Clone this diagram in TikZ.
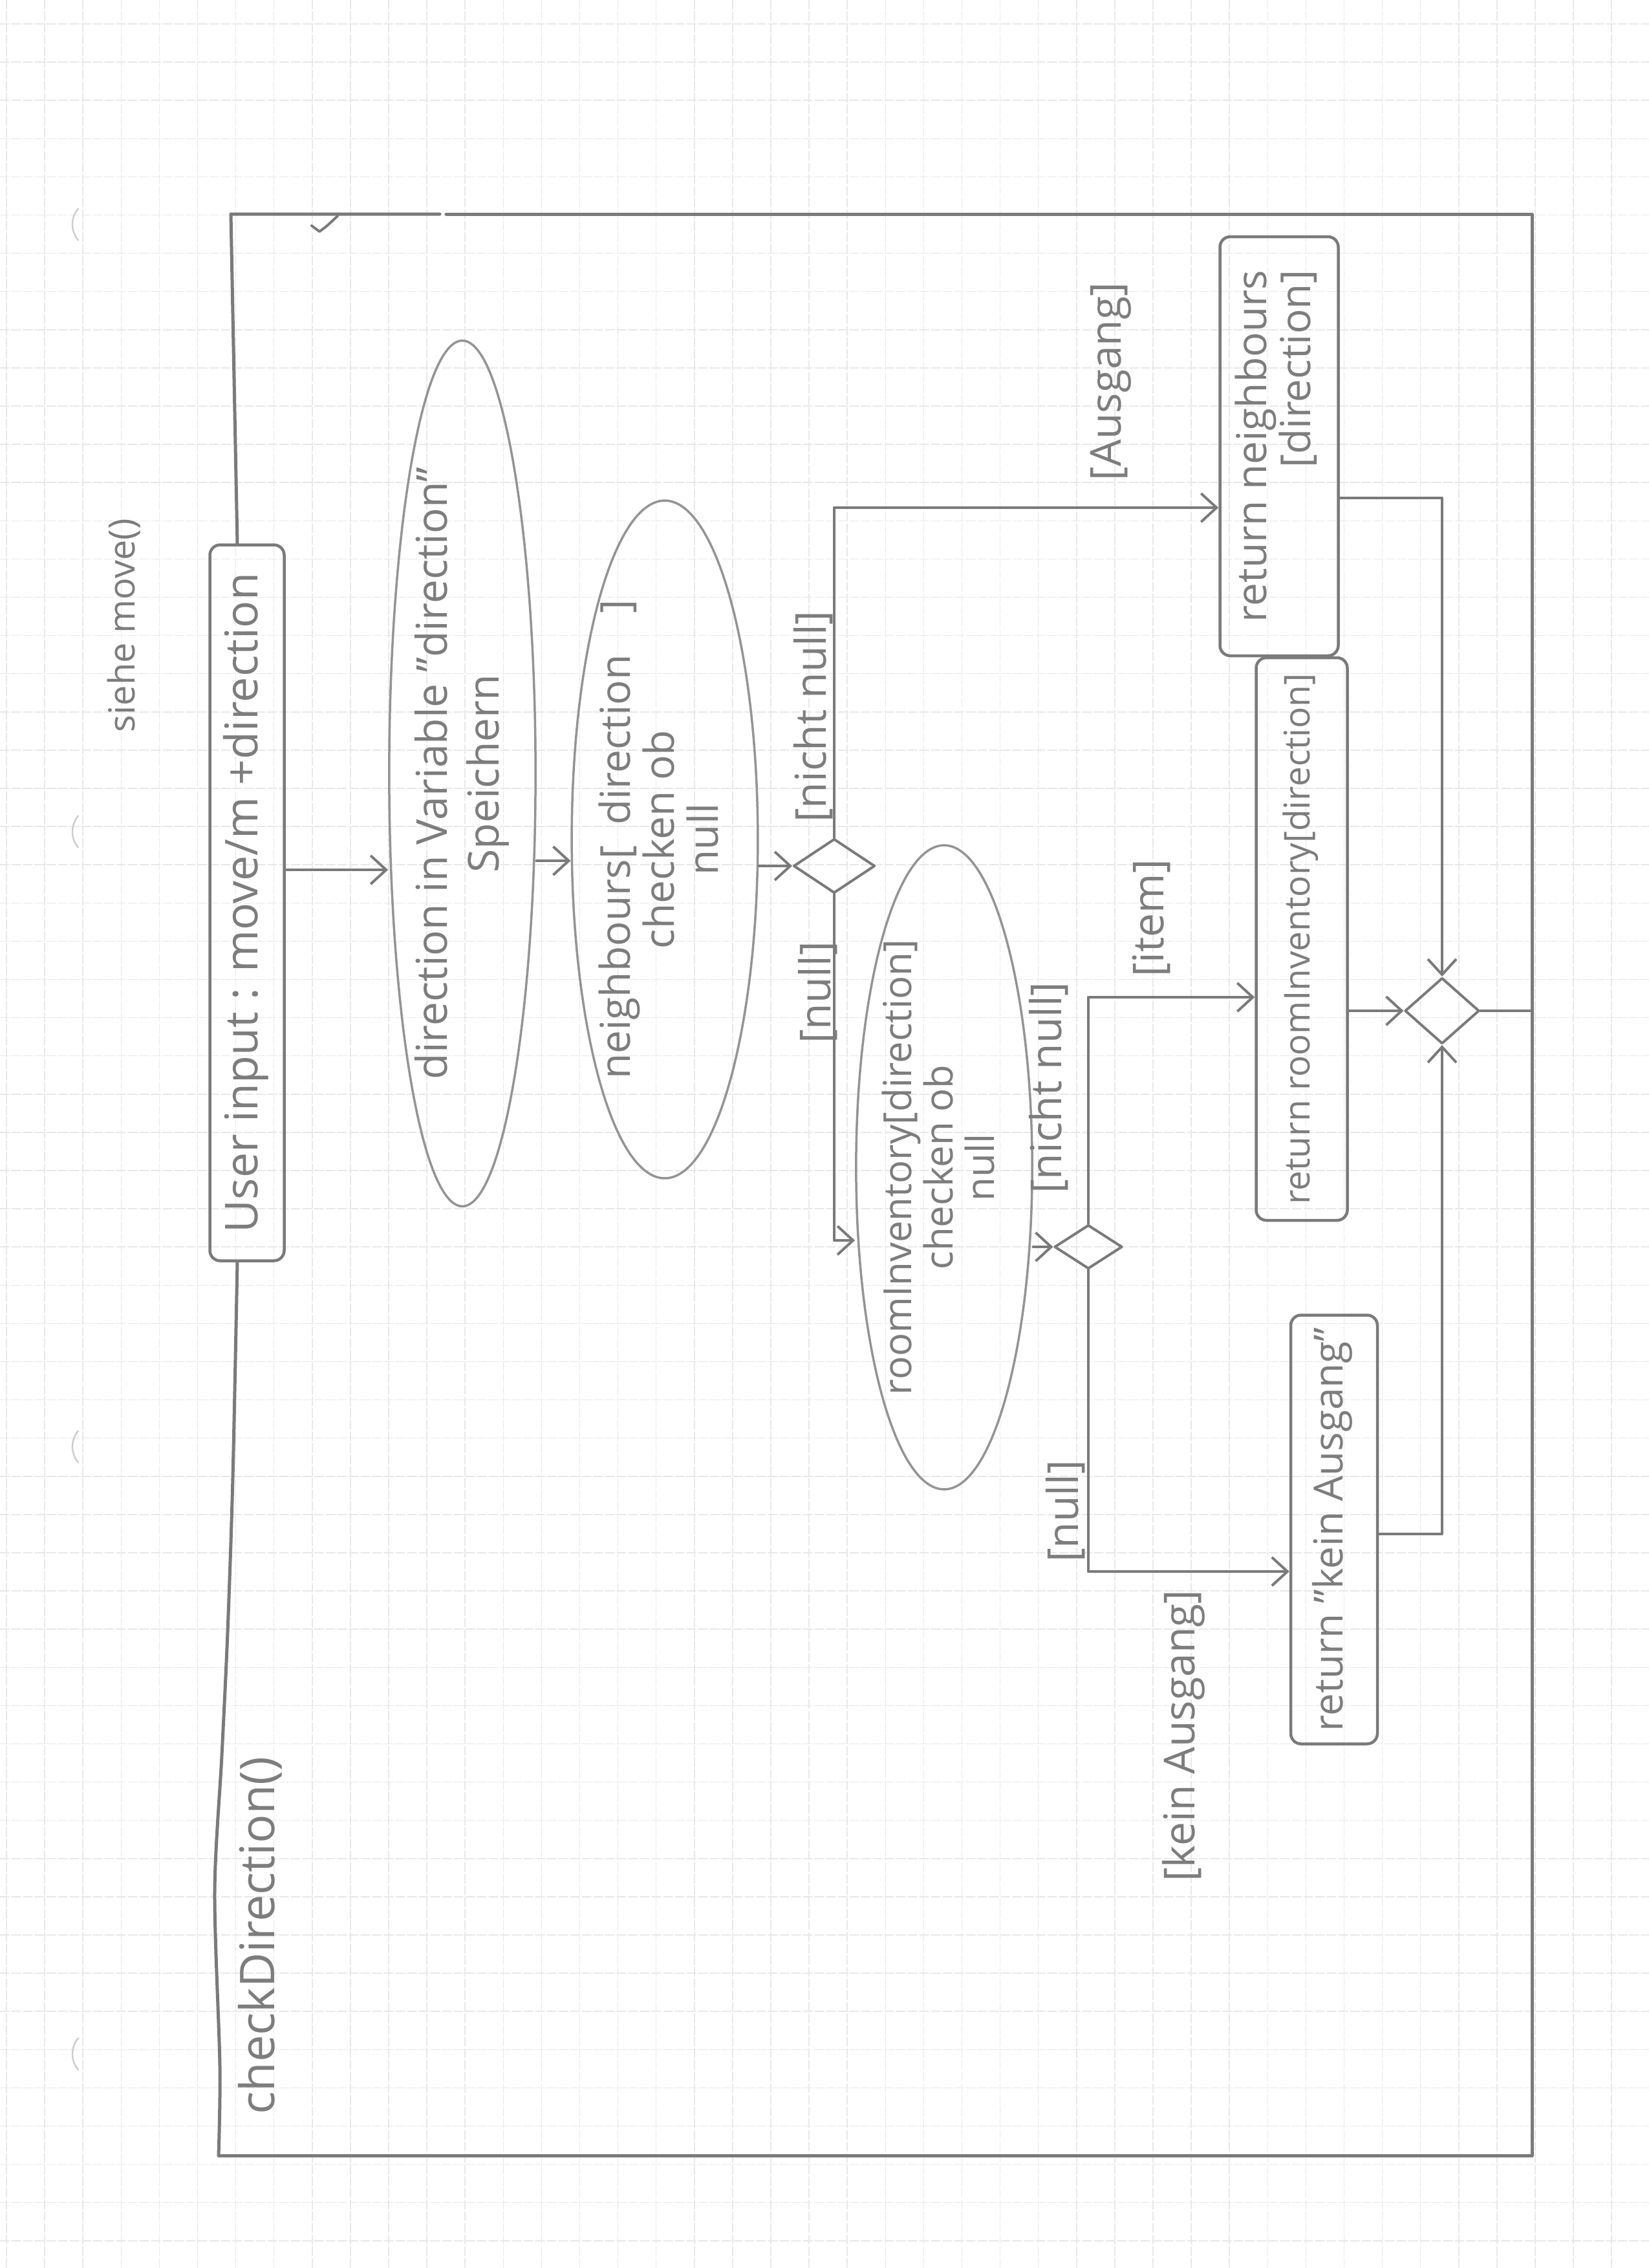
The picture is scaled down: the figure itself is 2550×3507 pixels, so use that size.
\documentclass[tikz,border=0pt]{standalone}
\usepackage{fontspec}
\setmainfont{Open Sans}
\usetikzlibrary{shapes.geometric, arrows.meta, calc}

\definecolor{gridcol}{RGB}{232,232,232}
\definecolor{pencil}{RGB}{122,122,122}
\definecolor{pencilsoft}{RGB}{148,148,148}
\definecolor{ink}{RGB}{125,125,125}
\definecolor{holecol}{RGB}{205,205,205}

% vertical (rotated) hand lettering
\newcommand{\vtext}[3]{\rotatebox{90}{\fontsize{#1}{#2}\selectfont\begin{tabular}{@{}c@{}}#3\end{tabular}}}
\newcommand{\vtextr}[3]{\rotatebox{90}{\fontsize{#1}{#2}\selectfont\begin{tabular}{@{}r@{}}#3\end{tabular}}}

\begin{document}
\begin{tikzpicture}[x=1pt, y=-1pt, line join=round, line cap=round,
  gridline/.style={draw=gridcol, line width=1.5pt, dash pattern=on 14pt off 4pt},
  hole/.style={draw=holecol, line width=2.5pt},
  frameline/.style={draw=pencil, line width=5pt},
  flow/.style={draw=pencil, line width=4.5pt},
  flowarrow/.style={flow, -{Straight Barb[length=24pt,width=44pt,line width=4pt]}},
  actbox/.style={draw=pencil, line width=4.5pt, rectangle, rounded corners=16pt, inner sep=0pt, text=ink},
  actoval/.style={draw=pencilsoft, line width=3.5pt, ellipse, inner sep=0pt, text=ink},
  choice/.style={draw=pencil, line width=4pt, diamond, inner sep=0pt},
  guard/.style={text=ink, inner sep=0pt, rotate=90, font=\fontsize{66}{66}\selectfont},
]
\fill[white] (0,0) rectangle (2550,3507);
\useasboundingbox (0,0) rectangle (2550,3507);

% squared paper
\foreach \k in {0,...,43} { \draw[gridline] ({10+59.1*\k},0) -- ({10+59.1*\k},3507); }
\foreach \k in {0,...,59} { \draw[gridline] (0,{37+59.1*\k}) -- (2550,{37+59.1*\k}); }

% punch holes at the margin
\foreach \yy in {347,1286,2237,3176} {
  \draw[hole] (150,\yy) ++(140:38) arc[start angle=140, end angle=220, radius=38];
}

% title notes
\node[guard, font=\fontsize{56}{56}\selectfont] (siehe) at (192,967) {siehe move()};
\node[guard, font=\fontsize{74}{74}\selectfont] (cdlabel) at (402,2993) {checkDirection()};

% actions
\node[actbox, minimum width=115pt, minimum height=1107pt] (user) at (382,1396)
  {\vtext{70}{80}{User input : move/m +direction}};
\node[actoval, minimum width=225pt, minimum height=1095pt] (dirvar) at (715,1196)
  {\vtext{66}{80}{direction in Variable "direction"\\Speichern}};
\node[actoval, minimum width=255pt, minimum height=945pt] (nbrs) at (1028,1298)
  {\vtext{64}{64}{neighbours[\enspace direction\quad]\\checken ob\\null}};
\node[choice, minimum width=126pt, minimum height=84pt] (dec1) at (1290,1339) {};
\node[actoval, minimum width=230pt, minimum height=790pt] (roominv) at (1460,1805)
  {\vtext{60}{62}{roomInventory[direction]\\checken ob\\null}};
\node[choice, minimum width=105pt, minimum height=68pt] (dec2) at (1683,1928) {};
\node[actbox, minimum width=183pt, minimum height=648pt] (retnb) at (1978,690)
  {\vtextr{64}{64}{return neighbours\\{[direction]}}};
\node[actbox, minimum width=141pt, minimum height=870pt] (retri) at (2013,1452)
  {\vtext{55}{60}{return roomInventory[direction]}};
\node[actbox, minimum width=134pt, minimum height=663pt] (retka) at (2063,2365)
  {\vtext{62}{66}{return "kein Ausgang"}};
\node[choice, minimum width=115pt, minimum height=102pt] (merge) at (2230,1563) {};

% guards
\node[guard] (gnn1) at (1258,1108) {[nicht null]};
\node[guard] (gnull1) at (1265,1535) {[null]};
\node[guard] (gaus) at (1718,590) {[Ausgang]};
\node[guard] (gnn2) at (1622,1682) {[nicht null]};
\node[guard] (gitem) at (1780,1420) {[item]};
\node[guard] (gnull2) at (1648,2337) {[null]};
\node[guard] (gkein) at (1830,2684) {[kein Ausgang]};

% frame of the activity
\coordinate (tl) at (357,331);
\coordinate (tr) at (2369,331);
\coordinate (br) at (2369,3333);
\coordinate (bl) at (338,3333);
\coordinate (lx) at (367,0);
\draw[frameline] (680,331) -- (tl) -- (lx |- user.north);
\draw[frameline] (690,331) -- (tr) -- (br) -- (bl);
\draw[frameline] plot[smooth] coordinates {(lx |- user.south) (360,2285) (352,2524) (343,2715) (332,2926) (340,3194) (bl)};
\draw[flow, line width=4pt] (482,349) -- (494,358) .. controls (505,350) .. (522,334);

% control flow
\coordinate (yUser) at (0,1345);
\coordinate (yVar) at (0,1331);
\coordinate (yAus) at (0,785);
\coordinate (yInv) at (0,1918);
\coordinate (yItem) at (0,1542);
\coordinate (yKein) at (0,2430);
\coordinate (yNb) at (0,770);
\coordinate (yKa) at (0,2372);

\draw[flowarrow] (user.east |- yUser) -- (dirvar.west |- yUser);
\draw[flowarrow] (dirvar.east |- yVar) -- (nbrs.west |- yVar);
\draw[flowarrow] (nbrs.east |- dec1) -- (dec1.west);
\draw[flowarrow] (dec1.north) -- (dec1.north |- yAus) -- (retnb.west |- yAus);
\draw[flowarrow] (dec1.south) -- (dec1.south |- yInv) -- (roominv.west |- yInv);
\draw[flowarrow] (roominv.east |- dec2) -- (dec2.west);
\draw[flowarrow] (dec2.north) -- (dec2.north |- yItem) -- (retri.west |- yItem);
\draw[flowarrow] (dec2.south) -- (dec2.south |- yKein) -- (retka.west |- yKein);
\draw[flowarrow] (retnb.east |- yNb) -- (merge.north |- yNb) -- (merge.north);
\draw[flowarrow] (retri.east |- merge) -- (merge.west);
\draw[flowarrow] (retka.east |- yKa) -- (merge.south |- yKa) -- (merge.south);
\draw[flow] (merge.east) -- (merge.east -| tr);
\end{tikzpicture}
\end{document}
